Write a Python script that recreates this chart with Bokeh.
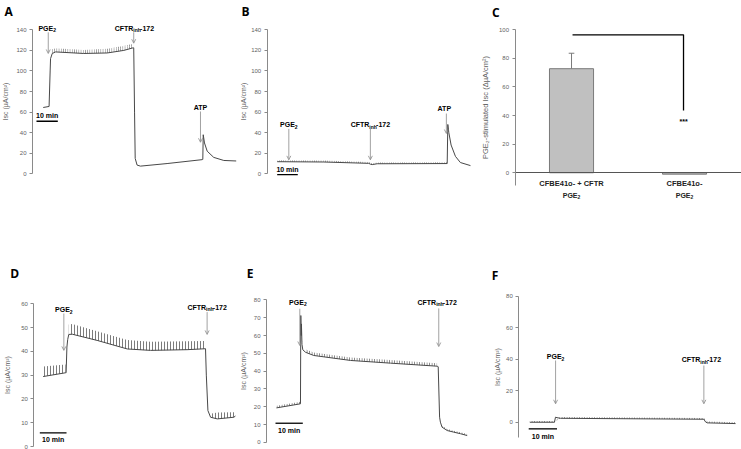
import numpy as np
from bokeh.plotting import figure
from bokeh.models import LinearAxis, FixedTicker, Arrow, OpenHead
from bokeh.layouts import column, row
from bokeh.embed import file_html
from bokeh.resources import INLINE
from bokeh.core.properties import value

# ---------------- data ----------------
# Panel A : CFBE41o- + CFTR, time (min) / Isc (uA/cm2)
a_t = [5.1, 7.9, 8.4, 8.6, 9.4, 11.0, 24.4, 35.6, 43.5, 47.9, 48.2, 48.6, 48.9, 49.8, 51.4, 64.1, 80.8, 81.1, 81.3, 81.9, 83.2, 86.3, 91.1, 97.0]
a_i = [64.5, 65.5, 100, 112, 117, 118.5, 117, 117.5, 120, 122.5, 122.5, 60, 15, 8.5, 7.5, 10, 13.8, 14, 38, 30, 22, 16, 13, 12.5]
a_pulse_t = [9.4, 11.0, 24.4, 35.6, 43.5, 47.9]
a_pulse_lo = [117, 118.5, 117, 117.5, 120, 122.5]
a_pulse_hi = [121, 122, 120.5, 121.5, 124.5, 126.5]

# Panel B : CFBE41o-
b_t = [4.85, 27.5, 49.3, 50.2, 51.0, 53.4, 87.4, 87.7, 88.2, 89.3, 91.4, 93.8, 98.7]
b_i = [11.8, 11.5, 10.2, 9.3, 9.0, 9.8, 10.0, 48, 40, 28, 17, 11, 8]
b_pulse_t = [4.85, 27.5, 49.3, 50.2, 51.0, 53.4, 87.4]
b_pulse_lo = [11.8, 11.5, 10.2, 9.3, 9.0, 9.8, 10.0]
b_pulse_hi = [13.3, 12.9, 11.6, 10.7, 10.3, 11.1, 11.3]

# Panel C : bar chart
c_groups = ["CFBE41o- + CFTR", "CFBE41o-"]
c_vals = [72.8, -1.0]
c_err = [10.8, 0.4]
c_yticks = [0, 20, 40, 60, 80, 100]

# Panel D
d_t = [3.5, 11.9, 12.1, 12.4, 12.7, 13.1, 14.4, 23.7, 35.0, 43.7, 57.4, 64.3, 64.6, 65.2, 66.2, 68.7, 74.9, 75.5]
d_i = [29.4, 31.0, 31.0, 41.8, 45.0, 47.1, 47.2, 44.6, 41.0, 40.4, 40.7, 41.1, 30.0, 15.1, 12.3, 11.6, 12.3, 12.8]
d_pre_t, d_pre_lo, d_pre_hi = [3.5, 11.9], [29.4, 31.0], [33.6, 34.5]
d_mid_t = [13.1, 14.4, 23.7, 35.0, 43.7, 57.4, 64.3]
d_mid_lo = [47.1, 47.2, 44.6, 41.0, 40.4, 40.7, 41.1]
d_mid_hi = [51.3, 51.5, 48.4, 44.8, 44.0, 44.2, 44.3]
d_post_t, d_post_lo, d_post_hi = [66.2, 68.7, 74.9, 75.5], [12.3, 11.6, 12.3, 12.8], [13.8, 14.3, 14.4, 14.6]

# Panel E
e_t = [3.66, 12.45, 12.57, 12.7, 12.8, 13.0, 13.3, 14.3, 17.3, 30.8, 45.4, 62.5, 62.9, 63.4, 63.7, 64.3, 66.2, 68.6, 71.1, 73.5]
e_i = [19.4, 21.7, 71.2, 60, 66.5, 55, 52, 50.6, 48.8, 46, 44.5, 42.8, 42.5, 14.2, 11.4, 8.6, 6.7, 5.8, 4.9, 3.9]
e_pre_t, e_pre_lo, e_pre_hi = [3.66, 12.45], [19.4, 21.7], [20.6, 22.9]
e_mid_t = [14.3, 17.3, 30.8, 45.4, 62.5]
e_mid_lo = [50.6, 48.8, 46.0, 44.5, 42.8]
e_mid_hi = [52.3, 50.5, 47.7, 46.2, 44.5]
e_post_t, e_post_lo, e_post_hi = [64.3, 66.2, 68.6, 71.1, 73.5], [8.6, 6.7, 5.8, 4.9, 3.9], [9.4, 7.5, 6.6, 5.7, 4.7]

# Panel F
f_t = [3.9, 12.6, 12.97, 13.5, 14.7, 65.4, 66.0, 66.6, 76.6]
f_i = [0.0, 0.0, 3.2, 2.9, 2.5, 1.9, 0.2, -0.4, -0.85]
f_pulse_t = [3.9, 12.6, 14.7, 65.4, 66.6, 76.6]
f_pulse_lo = [0.0, 0.0, 2.5, 1.9, -0.4, -0.85]
f_pulse_hi = [0.8, 0.8, 3.3, 2.7, 0.4, -0.05]

# event times (min)
events = {"A": {"PGE": 7.5, "CFTR": 48.2, "ATP": 80.0},
          "B": {"PGE": 10.5, "CFTR": 50.1, "ATP": 87.0},
          "D": {"PGE": 11.25, "CFTR": 64.9},
          "E": {"PGE": 12.2, "CFTR": 63.1},
          "F": {"PGE": 13.0, "CFTR": 65.4}}

ISC = "Isc (\u00b5A/cm\u00b2)"
FONT = "Liberation Sans"
TRACE = "#484848"
GREY = "#8a8a8a"
TICKTXT = "#5f5f5f"


def base_fig(w, h, xr, yr):
    p = figure(width=w, height=h, x_range=xr, y_range=yr, output_backend="svg",
               toolbar_location=None, x_axis_location=None, y_axis_location=None,
               min_border=0, outline_line_color=None)
    p.xgrid.grid_line_color = None
    p.ygrid.grid_line_color = None
    return p


def yaxis(p, ticks, bounds, label, lsize="7px", standoff=4):
    ax = LinearAxis(fixed_location=0, bounds=bounds, ticker=FixedTicker(ticks=ticks),
                    axis_label=label)
    ax.axis_line_color = GREY
    ax.major_tick_line_color = GREY
    ax.major_tick_out = 3
    ax.major_tick_in = 0
    ax.minor_tick_line_color = None
    ax.major_label_text_font = FONT
    ax.major_label_text_font_size = "6px"
    ax.major_label_text_color = TICKTXT
    ax.major_label_standoff = 3
    ax.axis_label_text_font = FONT
    ax.axis_label_text_font_size = lsize
    ax.axis_label_text_font_style = "normal"
    ax.axis_label_text_color = TICKTXT
    ax.axis_label_standoff = standoff
    p.add_layout(ax, "left")


def txt(p, x, y, s, size="7px", style="bold", align="center", color="black", xo=0, yo=0, font=FONT):
    p.text(x=[x], y=[y], text=[s], text_font=value(font), text_font_size=size,
           text_font_style=style, text_align=align, text_baseline="middle",
           text_color=color, x_offset=xo, y_offset=yo)


def letter(p, x, y, s):
    txt(p, x, y, s, size="12px", style="bold", font="Open Sans")


def arrow(p, x, y0, y1):
    p.add_layout(Arrow(x_start=x, y_start=y0, x_end=x, y_end=y1, line_color=GREY, line_width=0.8,
                       end=OpenHead(size=4, line_color=GREY, line_width=0.8)))


def pge_label(p, x, y, color="black"):
    txt(p, x, y, "PGE", align="right", xo=6, color=color)
    txt(p, x, y, "2", size="5px", align="left", xo=6, yo=2, color=color)


def cftr_label(p, x, y):
    txt(p, x, y, "CFTR", align="right", xo=-1)
    txt(p, x, y, "inh", size="5px", align="left", xo=-1, yo=2)
    txt(p, x, y, "-172", align="left", xo=5.7)


def trace(p, t, i):
    p.line(t, i, line_color=TRACE, line_width=1.0)


def pulses(p, t, lo, hi, scale=2.5):
    p.varea(x=t, y1=lo, y2=hi, fill_color=None, fill_alpha=0,
            hatch_pattern="vertical_line", hatch_scale=scale, hatch_color="#5a5a5a",
            hatch_weight=0.8, hatch_alpha=1.0)


def scalebar(p, x0, x1, y, ty):
    p.segment(x0=[x0], y0=[y], x1=[x1], y1=[y], line_color="black", line_width=1.3)
    txt(p, (x0 + x1) / 2, ty, "10 min")


# ---------------- panel A ----------------
pA = base_fig(240, 215, (-15.24, 99.05), (-40.5, 168.5))
yaxis(pA, list(range(0, 141, 20)), (0, 140), ISC, standoff=4)
pulses(pA, a_pulse_t, a_pulse_lo, a_pulse_hi, 2.2)
trace(pA, a_t, a_i)
letter(pA, -11.4, 157.8, "A")
pge_label(pA, 7.0, 141.6)
arrow(pA, events["A"]["PGE"], 137.6, 117)
cftr_label(pA, 48.5, 141.6)
arrow(pA, events["A"]["CFTR"], 137.6, 127)
txt(pA, 80.0, 64.7, "ATP")
arrow(pA, events["A"]["ATP"], 60.6, 30.7)
scalebar(pA, 1.9, 12.05, 51.1, 56.7)

# ---------------- panel B ----------------
pB = base_fig(238, 215, (-12.96, 102.6), (-40.5, 168.5))
yaxis(pB, list(range(0, 141, 20)), (0, 140), ISC, standoff=1)
pulses(pB, b_pulse_t, b_pulse_lo, b_pulse_hi, 2.2)
trace(pB, b_t, b_i)
letter(pB, -10.5, 157.8, "B")
pge_label(pB, 10.5, 47.9)
arrow(pB, events["B"]["PGE"], 43.7, 13.6)
cftr_label(pB, 50.1, 47.9)
arrow(pB, events["B"]["CFTR"], 43.7, 13.6)
txt(pB, 86.0, 63.2, "ATP")
arrow(pB, events["B"]["ATP"], 58.6, 39.2)
scalebar(pB, 4.85, 14.85, -0.7, 3.9)

# ---------------- panel C ----------------
pC = base_fig(263, 215, (-0.323, 2.004), (-29.9, 120.5))
yaxis(pC, c_yticks, (-9, 100), "PGE\u2082-stimulated Isc (\u0394\u00b5A/cm\u00b2)", lsize="7.5px", standoff=6)
cx = [0.5, 1.5]
pC.vbar(x=cx, top=c_vals, bottom=0, width=0.39, fill_color="#c0c0c0", line_color="#7a7a7a", line_width=1)
xax = LinearAxis(fixed_location=0, bounds=(0, 2.0), ticker=FixedTicker(ticks=cx),
                 major_label_overrides={cx[k]: c_groups[k] for k in range(2)})
xax.axis_line_color = "#555555"
xax.major_tick_line_color = None
xax.major_tick_out = 0
xax.major_tick_in = 0
xax.minor_tick_line_color = None
xax.major_label_text_font = FONT
xax.major_label_text_font_size = "7.5px"
xax.major_label_text_font_style = "bold"
xax.major_label_text_color = "#222222"
xax.major_label_standoff = 6
pC.add_layout(xax, "below")
for k in range(2):
    pge_label(pC, cx[k], -15.9, color="#222222")
pC.segment(x0=[cx[0]], y0=[c_vals[0]], x1=[cx[0]], y1=[c_vals[0] + c_err[0]], line_color="#7a7a7a", line_width=1)
pC.segment(x0=[cx[0] - 0.025], y0=[c_vals[0] + c_err[0]], x1=[cx[0] + 0.025], y1=[c_vals[0] + c_err[0]], line_color="#7a7a7a", line_width=1)
pC.line(x=[0.509, 1.491, 1.491], y=[96.5, 96.5, 43.6], line_color="black", line_width=1.3)
txt(pC, 1.491, 36.1, "***", size="7px")
letter(pC, -0.17, 112.1, "C")

# ---------------- panel D ----------------
pD = base_fig(240, 234, (-12.47, 77.4), (-1.26, 97.1))
yaxis(pD, list(range(0, 61, 10)), (0, 60), ISC, standoff=7)
pulses(pD, d_pre_t, d_pre_lo, d_pre_hi, 3)
pulses(pD, d_mid_t, d_mid_lo, d_mid_hi, 3)
pulses(pD, d_post_t, d_post_lo, d_post_hi, 3)
trace(pD, d_t, d_i)
letter(pD, -7.2, 72.7, "D")
pge_label(pD, 11.25, 57.5)
arrow(pD, events["D"]["PGE"], 55.9, 40.4)
cftr_label(pD, 64.9, 58.6)
arrow(pD, events["D"]["CFTR"], 56.5, 47.1)
scalebar(pD, 2.25, 12.25, 5.76, 2.8)

# ---------------- panel E ----------------
pE = base_fig(250, 234, (-9.52, 82.05), (-3.93, 127.3))
yaxis(pE, list(range(0, 81, 10)), (0, 80), ISC, standoff=4)
pulses(pE, e_pre_t, e_pre_lo, e_pre_hi, 2.5)
pulses(pE, e_mid_t, e_mid_lo, e_mid_hi, 2.5)
pulses(pE, e_post_t, e_post_lo, e_post_hi, 2.5)
trace(pE, e_t, e_i)
letter(pE, -6.0, 94.8, "E")
pge_label(pE, 11.5, 78.7)
arrow(pE, events["E"]["PGE"], 75.0, 54.4)
cftr_label(pE, 62.5, 78.7)
arrow(pE, events["E"]["CFTR"], 75.2, 53.8)
scalebar(pE, 3.3, 13.3, 10.8, 6.7)

# ---------------- panel F ----------------
pF = base_fig(251, 234, (-10.0, 78.7), (-17.3, 131.2))
yaxis(pF, list(range(0, 81, 20)), (-10, 80), ISC, standoff=2)
pulses(pF, f_pulse_t, f_pulse_lo, f_pulse_hi, 2.5)
trace(pF, f_t, f_i)
letter(pF, -8.4, 93.1, "F")
pge_label(pF, 13.0, 41.7)
arrow(pF, events["F"]["PGE"], 39.2, 11.7)
cftr_label(pF, 64.5, 39.6)
arrow(pF, events["F"]["CFTR"], 36.0, 11.7)
scalebar(pF, 3.5, 13.5, -4.2, -8.9)

layout = column(row(pA, pB, pC), row(pD, pE, pF))
open("out.html", "w").write(file_html(layout, INLINE))
